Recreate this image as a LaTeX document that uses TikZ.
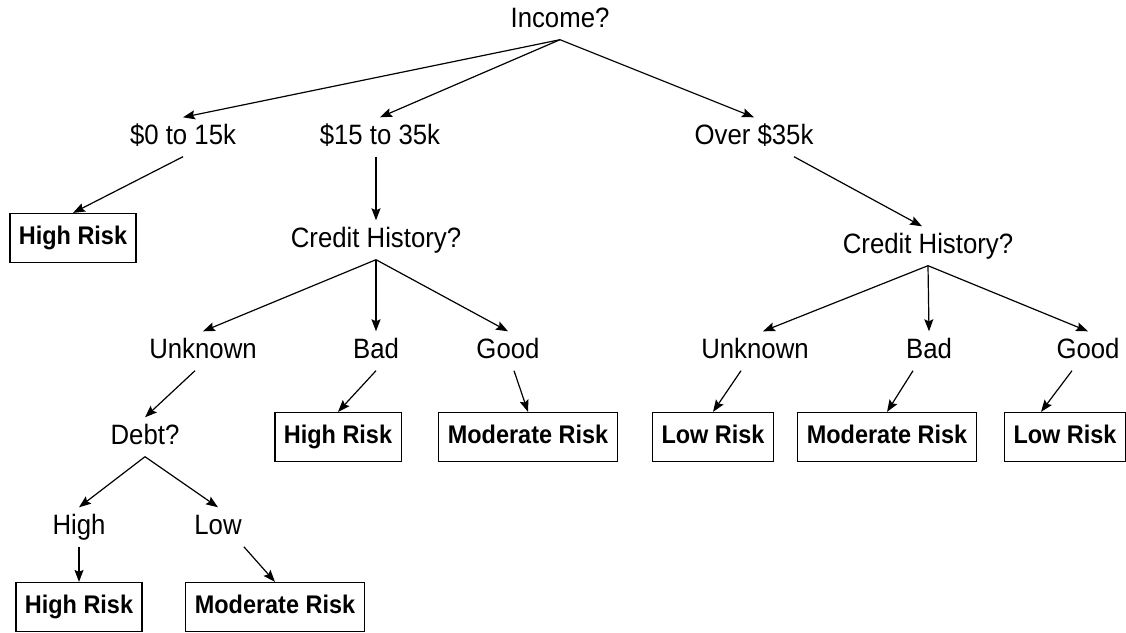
\documentclass[tikz,border=0pt]{standalone}
\usepackage{fontspec}
\setmainfont{Liberation Sans}[FakeStretch=0.92]
\usetikzlibrary{arrows.meta}
\tikzset{
  test/.style={inner xsep=2pt, inner ysep=7pt, text height=20pt, text depth=5pt},
  risk/.style={draw, line width=1.2pt, font=\fontsize{25.5}{30}\selectfont\bfseries,
               inner xsep=9pt, text height=18pt, text depth=5pt, minimum height=49pt},
  branch/.style={-{Stealth[length=12pt,width=9pt,inset=2pt]}, line width=1.2pt},
}
\begin{document}
\begin{tikzpicture}[x=1pt, y=-1pt, font=\fontsize{28}{32}\selectfont]
  \useasboundingbox (0,0) rectangle (1126,632);
  % root
  \node[test] (income) at (560,20) {Income?};
  \node[test] (low)  at (183,137) {\$0 to 15k};
  \node[test] (mid)  at (380,137) {\$15 to 35k};
  \node[test] (high) at (754,137) {Over \$35k};
  \draw[branch] (income.south) -- (low.north);
  \draw[branch] (income.south) -- (mid.north);
  \draw[branch] (income.south) -- (high.north);
  % low income
  \node[risk] (lowrisk) at (73,238) {High Risk};
  \draw[branch] (low.south) -- (lowrisk.north);
  % middle income
  \node[test] (midcredit) at (376,240) {Credit History?};
  \draw[branch] (mid.south -| midcredit) -- (midcredit.north);
  \node[test] (midunknown) at (203,351) {Unknown};
  \node[test] (midbad)     at (376,351) {Bad};
  \node[test] (midgood)    at (508,351) {Good};
  \draw[branch] (midcredit.south) -- (midunknown.north);
  \draw[branch] (midcredit.south) -- (midbad.north);
  \draw[branch] (midcredit.south) -- (midgood.north);
  \node[risk] (midbadrisk)  at (338,437) {High Risk};
  \node[risk] (midgoodrisk) at (528,437) {Moderate Risk};
  \draw[branch] (midbad.south) -- (midbadrisk.north);
  \draw[branch] ([xshift=6pt]midgood.south) -- (midgoodrisk.north);
  % debt
  \node[test] (debt) at (145,437) {Debt?};
  \draw[branch] ([xshift=-8pt]midunknown.south) -- (debt.north);
  \node[test] (debthigh) at (79,527) {High};
  \node[test] (debtlow)  at (218,527) {Low};
  \draw[branch] (debt.south) -- (debthigh.north);
  \draw[branch] (debt.south) -- (debtlow.north);
  \node[risk] (debthighrisk) at (79,607) {High Risk};
  \node[risk] (debtlowrisk)  at (275,607) {Moderate Risk};
  \draw[branch] (debthigh.south) -- (debthighrisk.north);
  \draw[branch] (debtlow.south east) -- (debtlowrisk.north);
  % high income
  \node[test] (highcredit) at (928,246) {Credit History?};
  \draw[branch] ([xshift=40pt]high.south) -- ([xshift=-6pt]highcredit.north);
  \node[test] (highunknown) at (755,351) {Unknown};
  \node[test] (highbad)     at (929,351) {Bad};
  \node[test] (highgood)    at (1088,351) {Good};
  \draw[branch] (highcredit.south) -- ([xshift=8pt]highunknown.north);
  \draw[branch] (highcredit.south) -- (highbad.north);
  \draw[branch] (highcredit.south) -- (highgood.north);
  \node[risk] (highunknownrisk) at (713,437) {Low Risk};
  \node[risk] (highbadrisk)     at (887,437) {Moderate Risk};
  \node[risk] (highgoodrisk)    at (1065,437) {Low Risk};
  \draw[branch] ([xshift=-14pt]highunknown.south) -- (highunknownrisk.north);
  \draw[branch] ([xshift=-16pt]highbad.south) -- (highbadrisk.north);
  \draw[branch] ([xshift=-16pt]highgood.south) -- ([xshift=-24pt]highgoodrisk.north);
\end{tikzpicture}
\end{document}
